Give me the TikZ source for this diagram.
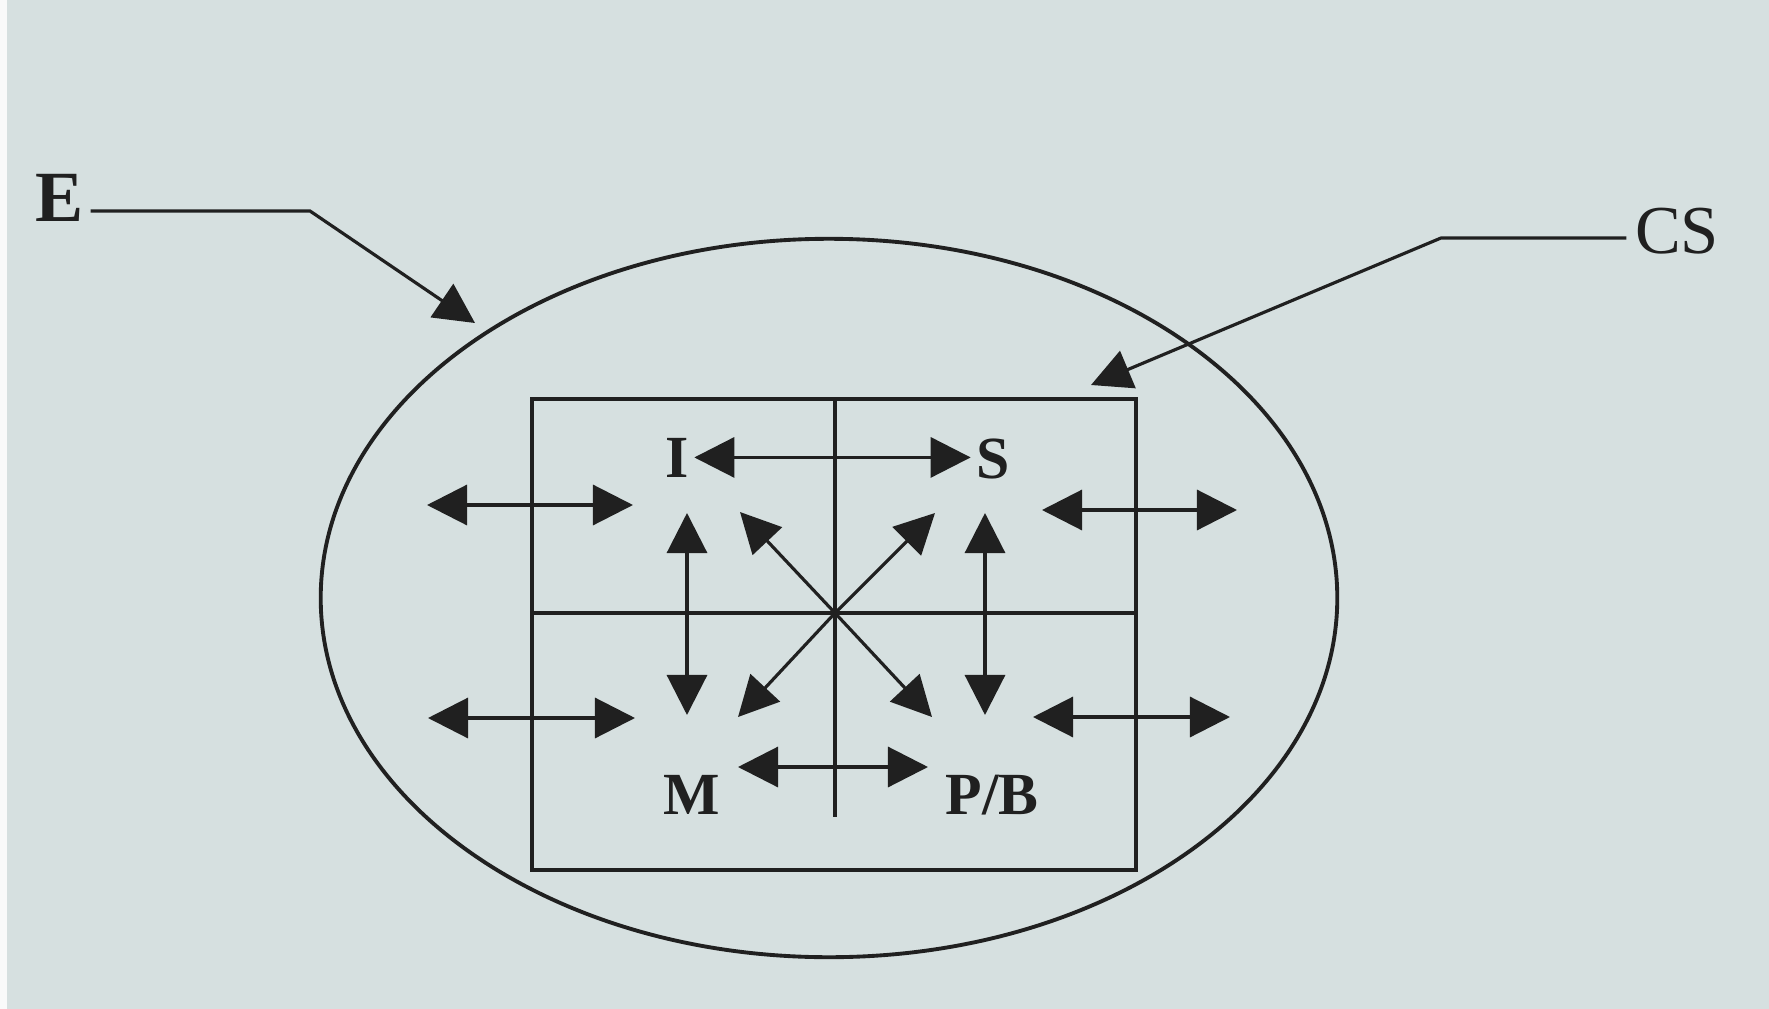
\documentclass[tikz,border=0pt]{standalone}
\usepackage{fontspec}
\setmainfont{Liberation Serif}
\usetikzlibrary{arrows.meta}
\definecolor{paper}{RGB}{214,224,224}
\definecolor{ink}{RGB}{32,32,32}
\begin{document}
\begin{tikzpicture}[x=0.01cm,y=-0.01cm,
  ln/.style={draw=ink, line width=0.9pt},
  tipA/.tip={Triangle[length=0.4cm,width=0.4cm]},
  dbl/.style={ln, tipA-tipA},
  one/.style={ln, -tipA},
  lab/.style={text=ink, inner sep=0.05cm, font=\bfseries\fontsize{17}{17}\selectfont},
  big/.style={text=ink, inner sep=0.06cm, font=\bfseries\fontsize{20.5}{20.5}\selectfont},
  cs/.style={text=ink, inner sep=0.08cm, font=\fontsize{19.5}{19.5}\selectfont}]
\fill[paper] (0,0) rectangle (1769,1009);
\fill[white!85!paper] (0,0) rectangle (7,1009);
\useasboundingbox (0,0) rectangle (1769,1009);

% labels
\node[big, anchor=base] (E) at (60,221) {E};
\node[cs, anchor=base] (CS) at (1677,253) {CS};
\node[lab, anchor=base] (I) at (677,477) {I};
\node[lab, anchor=base] (S) at (993,478) {S};
\node[lab, anchor=base] (M) at (692,814) {M};
\node[lab, anchor=base] (PB) at (992,814) {P/B};

% ellipse and box
\draw[ln, line width=1.1pt] (829,598) ellipse [x radius=5.08cm, y radius=3.59cm];
\draw[ln] (532,399) rectangle (1136,870);
\coordinate (O) at (835,613);
\draw[ln] (835,399) -- (835,817);
\draw[ln] (532,613) -- (1136,613);
\fill[ink] (O) circle (0.05cm);

% pointer arrows
\coordinate (e1) at (310,211);
\coordinate (e2) at (475,323);
\draw[one] (E.east |- e1) -- (e1) -- (e2);
\coordinate (c1) at (1441,238);
\coordinate (c2) at (1091,385);
\draw[one] (CS.west |- c1) -- (c1) -- (c2);

% inner arrows
\draw[dbl] (I.east) -- (I.east -| S.west);
\coordinate (m1) at (738,767);
\coordinate (m2) at (928,767);
\draw[dbl] (m1) -- (m2);
\coordinate (v1a) at (687,513);
\coordinate (v1b) at (687,715);
\draw[dbl] (v1a) -- (v1b);
\coordinate (v2a) at (985,513);
\coordinate (v2b) at (985,715);
\draw[dbl] (v2a) -- (v2b);
\coordinate (dnw) at (740,512);
\coordinate (dne) at (935,513);
\coordinate (dsw) at (738,717);
\coordinate (dse) at (932,717);
\draw[one] (O) -- (dnw);
\draw[one] (O) -- (dne);
\draw[one] (O) -- (dsw);
\draw[one] (O) -- (dse);

% outer arrows
\coordinate (l1a) at (427,505); \coordinate (l1b) at (633,505);
\coordinate (l2a) at (428,718); \coordinate (l2b) at (635,718);
\coordinate (r1a) at (1042,510); \coordinate (r1b) at (1237,510);
\coordinate (r2a) at (1033,717); \coordinate (r2b) at (1230,717);
\draw[dbl] (l1a) -- (l1b);
\draw[dbl] (l2a) -- (l2b);
\draw[dbl] (r1a) -- (r1b);
\draw[dbl] (r2a) -- (r2b);
\end{tikzpicture}
\end{document}
